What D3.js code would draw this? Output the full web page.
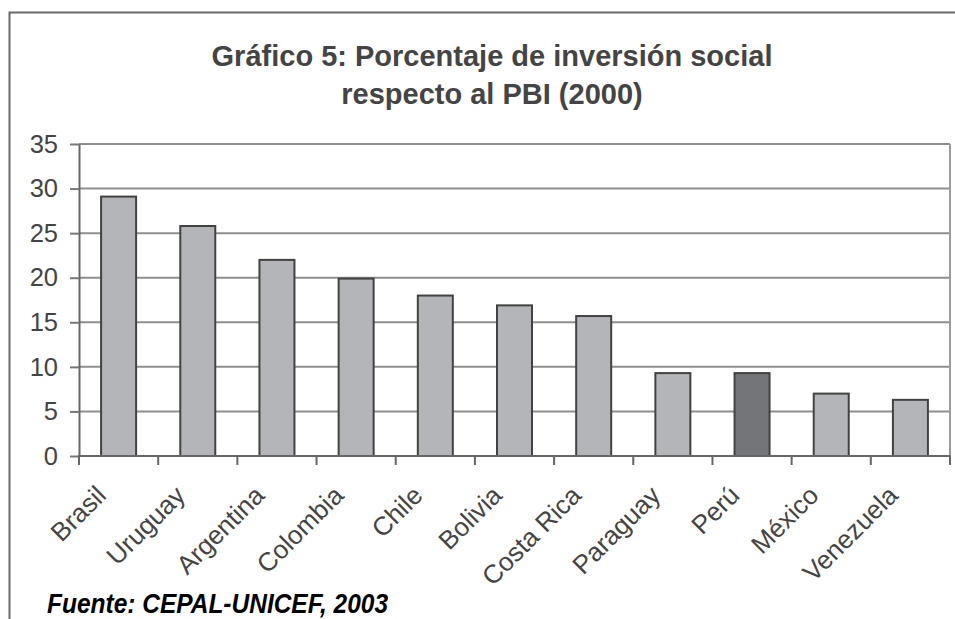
<!DOCTYPE html>
<html><head><meta charset="utf-8">
<script src="https://cdn.jsdelivr.net/npm/d3@7"></script>
<style>body{margin:0;background:#fff}svg{display:block}</style>
</head><body>
<svg id="c" width="955" height="619"></svg>
<script>
const categories = ["Brasil","Uruguay","Argentina","Colombia","Chile","Bolivia","Costa Rica","Paraguay","Perú","México","Venezuela"];
const values = [29.1, 25.8, 22.0, 19.9, 18.0, 16.9, 15.7, 9.3, 9.3, 7.0, 6.3];
const highlighted = ["Perú"];
const yTicks = [0, 5, 10, 15, 20, 25, 30, 35];
const titleLines = ["Gráfico 5: Porcentaje de inversión social", "respecto al PBI (2000)"];
const sourceText = "Fuente: CEPAL-UNICEF, 2003";

const W = 955, H = 619;
const m = {left: 79, right: 950, top: 144, bottom: 456};
const font = "'Liberation Sans', Arial, Helvetica, sans-serif";
const svg = d3.select("#c");

// outer frame (left + top visible)
svg.append("path").attr("d", `M9.5,${H} V12.5 H${W}`)
  .attr("fill", "none").attr("stroke", "#6a6a6a").attr("stroke-width", 2);

// title
svg.append("g").selectAll("text").data(titleLines).join("text")
  .attr("x", 492).attr("y", (d, i) => 66 + i * 38)
  .attr("text-anchor", "middle")
  .attr("font-family", font).attr("font-weight", "bold").attr("font-size", 29)
  .attr("fill", "#444").text(d => d);

const x = d3.scaleBand().domain(categories).range([m.left, m.right]).paddingInner(0.558).paddingOuter(0.279);
const xb = d3.scaleBand().domain(categories).range([m.left, m.right]).padding(0);
const y = d3.scaleLinear().domain([0, 35]).range([m.bottom, m.top]);

// gridlines
svg.append("g").selectAll("line").data(yTicks).join("line")
  .attr("x1", m.left).attr("x2", m.right)
  .attr("y1", d => y(d)).attr("y2", d => y(d))
  .attr("stroke", "#8e8e8e").attr("stroke-width", 2);

// right plot border
svg.append("line").attr("x1", m.right).attr("x2", m.right).attr("y1", m.top).attr("y2", m.bottom)
  .attr("stroke", "#9a9a9a").attr("stroke-width", 2);

// y axis
const ya = svg.append("g").attr("transform", `translate(${m.left},0)`)
  .call(d3.axisLeft(y).tickValues(yTicks).tickSize(9).tickPadding(12).tickSizeOuter(0));
ya.select(".domain").attr("stroke", "#666").attr("stroke-width", 2);
ya.selectAll(".tick line").attr("stroke", "#777").attr("stroke-width", 2);
ya.selectAll(".tick text").attr("font-family", font).attr("font-size", 25.5).attr("fill", "#444");

// bars
svg.append("g").selectAll("rect").data(categories).join("rect")
  .attr("x", d => x(d)).attr("width", x.bandwidth())
  .attr("y", (d, i) => y(values[i])).attr("height", (d, i) => y(0) - y(values[i]))
  .attr("fill", d => highlighted.includes(d) ? "#747578" : "#b4b5b8")
  .attr("stroke", "#424242").attr("stroke-width", 2);

// x axis line
svg.append("line").attr("x1", m.left).attr("x2", m.right).attr("y1", y(0)).attr("y2", y(0))
  .attr("stroke", "#666").attr("stroke-width", 2);
// boundary ticks
const bounds = categories.map(c => xb(c)).concat([xb(categories[categories.length - 1]) + xb.bandwidth()]);
svg.append("g").selectAll("line").data(bounds).join("line")
  .attr("x1", d => d).attr("x2", d => d).attr("y1", y(0) - 1).attr("y2", y(0) + 9)
  .attr("stroke", "#666").attr("stroke-width", 2);

// x labels
svg.append("g").selectAll("text").data(categories).join("text")
  .attr("transform", d => `translate(${xb(d) + xb.bandwidth() / 2 - 11},497) rotate(-45)`)
  .attr("text-anchor", "end")
  .attr("font-family", font).attr("font-size", 26).attr("fill", "#444")
  .text(d => d);

// source
svg.append("text").attr("x", 47).attr("y", 613)
  .attr("font-family", font).attr("font-weight", "bold").attr("font-style", "italic")
  .attr("font-size", 27).attr("textLength", 341).attr("lengthAdjust", "spacingAndGlyphs")
  .attr("fill", "#000").text(sourceText);
</script>
</body></html>
